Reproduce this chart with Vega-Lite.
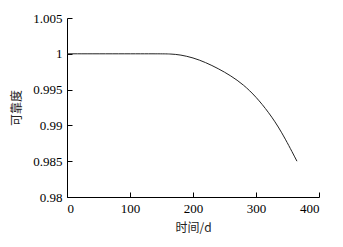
{
  "$schema": "https://vega.github.io/schema/vega-lite/v6.json",
  "autosize": "none",
  "width": 252,
  "height": 179,
  "padding": {"left": 67, "top": 18, "right": 24, "bottom": 50},
  "background": "white",
  "config": {
    "view": {"stroke": null},
    "axis": {
      "grid": false,
      "domainColor": "#000",
      "tickColor": "#000",
      "tickSize": -5,
      "domainWidth": 1,
      "tickWidth": 1,
      "labelFont": "Liberation Serif",
      "labelFontSize": 13,
      "labelColor": "#000",
      "titleFont": "Noto Sans CJK SC",
      "titleFontSize": 12,
      "titleFontWeight": "normal",
      "titleColor": "#222"
    }
  },
  "data": {
    "values": [
      {"t": 0, "r": 1.0},
      {"t": 100, "r": 1.0},
      {"t": 150, "r": 1.0},
      {"t": 165, "r": 0.99998},
      {"t": 180, "r": 0.99986},
      {"t": 200, "r": 0.99946},
      {"t": 220, "r": 0.9988},
      {"t": 240, "r": 0.99794},
      {"t": 260, "r": 0.99694},
      {"t": 280, "r": 0.9957},
      {"t": 300, "r": 0.994},
      {"t": 320, "r": 0.99184},
      {"t": 340, "r": 0.98924},
      {"t": 365, "r": 0.985}
    ]
  },
  "mark": {"type": "line", "color": "#222", "strokeWidth": 1, "interpolate": "basis"},
  "encoding": {
    "x": {
      "field": "t", "type": "quantitative",
      "scale": {"domain": [0, 400], "nice": false},
      "axis": {"values": [0, 100, 200, 300, 400], "title": "时间/d", "labelPadding": 10, "titlePadding": 7}
    },
    "y": {
      "field": "r", "type": "quantitative",
      "scale": {"domain": [0.98, 1.005], "nice": false, "zero": false},
      "axis": {"values": [0.98, 0.985, 0.99, 0.995, 1, 1.005], "title": "可靠度", "labelPadding": 10, "titlePadding": 9, "labelExpr": "format(datum.value, '')"}
    }
  }
}
